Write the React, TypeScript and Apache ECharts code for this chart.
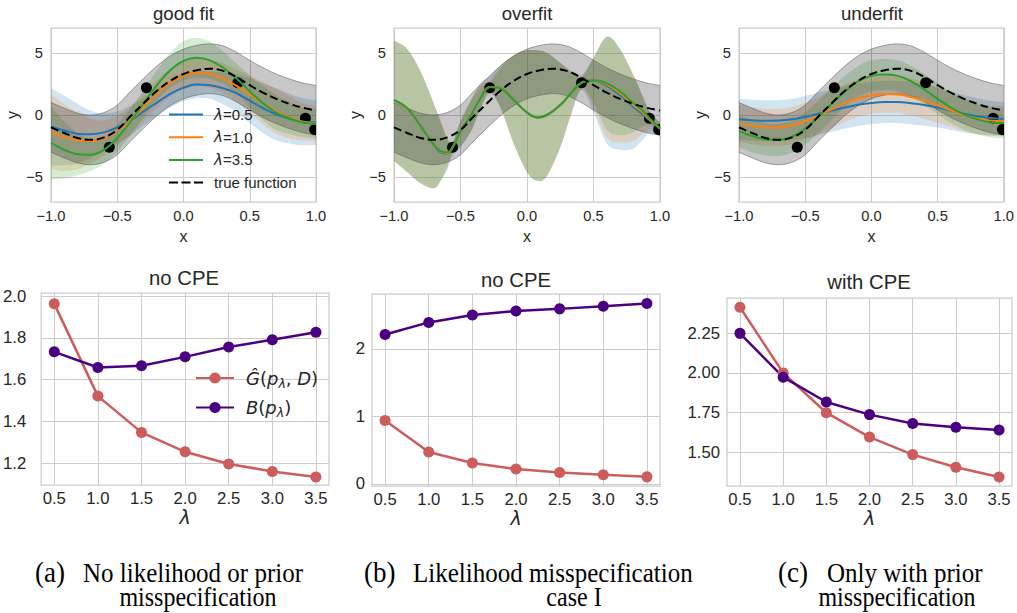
import React, { useEffect, useRef } from 'react';
import * as echarts from 'echarts';

// ---------- top row: GP fits ----------
const xs = [-1.0, -0.9, -0.8, -0.7, -0.6, -0.5, -0.4, -0.3, -0.2, -0.1, 0.0, 0.1, 0.2, 0.3, 0.4, 0.5, 0.6, 0.7, 0.8, 0.9, 1.0];
const trueFn = [-1.0, -1.45, -1.85, -2.0, -1.8, -1.2, -0.1, 0.95, 1.95, 2.75, 3.3, 3.6, 3.72, 3.55, 3.05, 2.4, 1.8, 1.3, 0.9, 0.58, 0.37];
const trueBandHalfWidth = 2;

const dotsX = [-0.56, -0.28, 0.41, 0.92, 0.99];
const dotsY = [-2.6, 2.2, 2.6, -0.27, -1.17];

// good fit
const goodBlue = [-0.95, -1.25, -1.5, -1.55, -1.4, -1.0, -0.45, 0.3, 1.0, 1.7, 2.2, 2.45, 2.4, 2.15, 1.75, 1.15, 0.55, 0.05, -0.3, -0.55, -0.6];
const goodOrange = [-1.35, -1.8, -2.05, -2.1, -1.85, -1.25, -0.45, 0.65, 1.7, 2.6, 3.15, 3.4, 3.3, 2.95, 2.35, 1.65, 0.95, 0.3, -0.2, -0.55, -0.7];
const goodGreen = [-2.25, -2.8, -3.15, -3.2, -2.8, -1.85, -0.55, 0.95, 2.4, 3.6, 4.35, 4.6, 4.4, 3.8, 2.95, 1.9, 0.95, 0.2, -0.25, -0.6, -0.7];
const goodBlueHw = [3.1, 2.8, 2.4, 1.9, 1.5, 1.3, 1.2, 1.1, 1.1, 1.1, 1.1, 1.1, 1.1, 1.3, 1.5, 1.8, 2.0, 2.1, 2.0, 1.9, 1.8];
const goodOrangeHw = [3.0, 2.7, 2.3, 1.8, 1.4, 1.2, 1.1, 1.1, 1.1, 1.1, 1.1, 1.1, 1.1, 1.2, 1.3, 1.5, 1.7, 1.8, 1.7, 1.5, 1.4];
const goodGreenHw = [2.95, 2.3, 1.7, 1.3, 1.1, 1.1, 1.1, 1.1, 1.2, 1.4, 1.6, 1.6, 1.5, 1.3, 1.2, 1.3, 1.4, 1.4, 1.3, 1.2, 1.2];

// overfit (own x grid)
const xsOver = [-1.0, -0.9, -0.8, -0.7, -0.65, -0.6, -0.56, -0.5, -0.42, -0.35, -0.28, -0.2, -0.1, 0.0, 0.08, 0.15, 0.25, 0.33, 0.41, 0.5, 0.6, 0.7, 0.8, 0.87, 0.92, 0.96, 1.0];
const overGreen = [1.2, 0.55, -0.9, -2.4, -2.9, -3.0, -2.6, -1.3, 0.0, 1.35, 2.25, 2.15, 1.2, 0.2, -0.2, 0.0, 0.8, 1.75, 2.6, 2.8, 2.55, 1.9, 0.95, 0.35, -0.25, -0.65, -1.1];
const overOrange = [1.2, 0.55, -0.9, -2.4, -2.95, -3.05, -2.6, -1.3, 0.0, 1.35, 2.25, 2.15, 1.2, 0.2, -0.2, 0.0, 0.8, 1.75, 2.6, 2.8, 2.45, 1.75, 0.8, 0.2, -0.35, -0.7, -1.1];
const overBlue = [1.2, 0.55, -0.9, -2.4, -3.0, -3.1, -2.65, -1.3, 0.0, 1.35, 2.25, 2.15, 1.2, 0.2, -0.2, 0.0, 0.8, 1.75, 2.6, 2.75, 2.35, 1.6, 0.65, 0.05, -0.4, -0.75, -1.1];
const overGreenUp = [6.0, 5.3, 3.5, 0.9, -0.5, -1.9, -2.2, -0.5, 1.2, 2.2, 2.6, 3.75, 4.8, 5.2, 5.2, 5.0, 4.2, 3.5, 3.0, 4.6, 6.3, 5.3, 3.2, 1.5, 0.3, -0.2, -0.6];
const overGreenLo = [-3.7, -4.6, -5.5, -5.9, -5.3, -4.2, -3.0, -2.5, -1.3, 0.5, 1.9, 0.6, -2.3, -4.6, -5.3, -4.9, -2.6, 0.0, 2.2, 1.0, -1.2, -1.6, -1.4, -0.9, -0.8, -1.1, -1.6];
const overOrangeUp = [6.0, 5.3, 3.5, 0.9, -0.5, -1.9, -2.2, -0.5, 1.2, 2.4, 2.8, 3.85, 4.8, 5.2, 5.2, 5.0, 4.2, 3.5, 3.1, 4.6, 6.3, 5.3, 3.2, 1.5, 0.3, -0.2, -0.6];
const overOrangeLo = [-3.7, -4.6, -5.5, -5.9, -5.3, -4.3, -3.1, -2.5, -1.3, 0.5, 1.8, 0.6, -2.3, -4.6, -5.3, -4.9, -2.6, 0.0, 2.1, 0.6, -1.8, -2.2, -2.1, -1.5, -1.1, -1.3, -1.7];
const overBlueUp = [6.0, 5.3, 3.5, 0.9, -0.5, -1.9, -2.2, -0.5, 1.2, 2.6, 3.1, 4.0, 4.8, 5.2, 5.2, 5.0, 4.2, 3.5, 3.2, 4.6, 6.3, 5.3, 3.2, 1.5, 0.3, -0.2, -0.6];
const overBlueLo = [-3.7, -4.6, -5.5, -5.9, -5.3, -4.4, -3.3, -2.6, -1.3, 0.5, 1.7, 0.6, -2.3, -4.6, -5.3, -4.9, -2.6, 0.0, 2.0, 0.2, -2.3, -2.8, -2.7, -2.0, -1.4, -1.5, -1.8];

// underfit
const underBlue = [-0.35, -0.42, -0.47, -0.45, -0.35, -0.15, 0.1, 0.35, 0.6, 0.82, 0.97, 1.05, 1.05, 0.95, 0.8, 0.6, 0.35, 0.1, -0.1, -0.25, -0.3];
const underOrange = [-0.65, -0.85, -1.0, -1.0, -0.85, -0.5, -0.05, 0.45, 0.95, 1.35, 1.58, 1.68, 1.65, 1.45, 1.15, 0.78, 0.4, 0.0, -0.3, -0.45, -0.5];
const underGreen = [-1.3, -1.7, -1.95, -2.0, -1.75, -1.1, -0.15, 0.9, 1.9, 2.7, 3.15, 3.25, 3.15, 2.7, 2.05, 1.3, 0.6, 0.05, -0.35, -0.6, -0.65];
const underBlueHw = [1.65, 1.65, 1.65, 1.65, 1.65, 1.7, 1.7, 1.7, 1.7, 1.7, 1.7, 1.7, 1.7, 1.7, 1.65, 1.6, 1.55, 1.5, 1.45, 1.4, 1.35];
const underOrangeHw = [1.5, 1.5, 1.5, 1.5, 1.5, 1.5, 1.5, 1.5, 1.5, 1.5, 1.5, 1.5, 1.5, 1.5, 1.45, 1.4, 1.35, 1.3, 1.25, 1.2, 1.2];
const underGreenHw = [1.3, 1.3, 1.3, 1.3, 1.3, 1.3, 1.3, 1.3, 1.25, 1.25, 1.25, 1.25, 1.25, 1.25, 1.25, 1.25, 1.25, 1.25, 1.2, 1.2, 1.2];

const topTitles = ['good fit', 'overfit', 'underfit'];
const legendNames = ['λ=0.5', 'λ=1.0', 'λ=3.5', 'true function'];
const topYTicks = [-5, 0, 5];

// ---------- bottom row ----------
const lambdas = [0.5, 1.0, 1.5, 2.0, 2.5, 3.0, 3.5];
const noCpeA_G = [1.963, 1.521, 1.347, 1.254, 1.196, 1.16, 1.133];
const noCpeA_B = [1.733, 1.658, 1.666, 1.709, 1.756, 1.791, 1.827];
const noCpeB_G = [0.94, 0.474, 0.31, 0.22, 0.17, 0.135, 0.105];
const noCpeB_B = [2.21, 2.39, 2.5, 2.56, 2.59, 2.63, 2.67];
const withCpe_G = [2.412, 2.0, 1.75, 1.597, 1.487, 1.408, 1.346];
const withCpe_B = [2.248, 1.973, 1.817, 1.738, 1.682, 1.659, 1.641];
const bottomTitles = ['no CPE', 'no CPE', 'with CPE'];
const lambdaTicks = [0.5, 1.0, 1.5, 2.0, 2.5, 3.0, 3.5];
const yTicksA = [1.2, 1.4, 1.6, 1.8, 2.0];
const yTicksB = [0, 1, 2];
const yTicksC = [1.5, 1.75, 2.0, 2.25];

const captions = [
  { label: '(a)', line1: 'No likelihood or prior', line2: 'misspecification' },
  { label: '(b)', line1: 'Likelihood misspecification', line2: 'case I' },
  { label: '(c)', line1: 'Only with prior', line2: 'misspecification' },
];

const FONT = '"Liberation Sans", Arial, sans-serif';
const MATH = '"DejaVu Sans", sans-serif';
const SERIF = '"Liberation Serif", "Times New Roman", serif';
const TXT = '#262626';
const GRIDC = '#cccccc';
const C_BLUE = '#1f77b4';
const C_ORANGE = '#ff7f0e';
const C_GREEN = '#2ca02c';
const C_RED = '#cd5c5c';
const C_INDIGO = '#4b0082';

const minus = (s: string) => s.replace('-', '\u2212');

// Catmull-Rom smoothing of already-projected pixel points (rendering only)
function smoothPix(pts: number[][]): number[][] {
  const out: number[][] = [];
  const n = pts.length;
  for (let i = 0; i < n - 1; i++) {
    const p0 = pts[Math.max(0, i - 1)], p1 = pts[i], p2 = pts[i + 1], p3 = pts[Math.min(n - 1, i + 2)];
    const steps = 8;
    for (let s = 0; s < steps; s++) {
      const t = s / steps, t2 = t * t, t3 = t2 * t;
      const f = (a: number, b: number, c: number, d: number) =>
        0.5 * (2 * b + (-a + c) * t + (2 * a - 5 * b + 4 * c - d) * t2 + (-a + 3 * b - 3 * c + d) * t3);
      out.push([f(p0[0], p1[0], p2[0], p3[0]), f(p0[1], p1[1], p2[1], p3[1])]);
    }
  }
  out.push(pts[n - 1]);
  return out;
}

function band(gi: number, xArr: number[], lo: number[], hi: number[], fill: string, edge?: string): any {
  return {
    type: 'custom', xAxisIndex: gi, yAxisIndex: gi, clip: true, silent: true,
    encode: { x: 0, y: [1, 2] },
    data: xArr.map((x, i) => [x, lo[i], hi[i]]),
    renderItem: (params: any, api: any) => {
      if (params.dataIndex !== 0) return null;
      const up = smoothPix(xArr.map((x, i) => api.coord([x, hi[i]])));
      const dn = smoothPix(xArr.map((x, i) => api.coord([x, lo[i]])));
      const children: any[] = [
        { type: 'polygon', shape: { points: [...up, ...dn.slice().reverse()] }, style: { fill, stroke: 'none' } },
      ];
      if (edge) {
        children.push({ type: 'polyline', shape: { points: up }, style: { stroke: edge, lineWidth: 1, fill: 'none' } });
        children.push({ type: 'polyline', shape: { points: dn }, style: { stroke: edge, lineWidth: 1, fill: 'none' } });
      }
      return { type: 'group', children };
    },
  };
}

function meanLine(name: string, gi: number, xArr: number[], ys: number[], color: string, dashed = false): any {
  return {
    type: 'line', name, xAxisIndex: gi, yAxisIndex: gi, smooth: 0.4, symbol: 'none', silent: true,
    data: xArr.map((x, i) => [x, ys[i]]),
    lineStyle: { color, width: 2, type: dashed ? [8, 4] : 'solid' }, itemStyle: { color },
  };
}

const BAND_FILLS = ['rgba(31,119,180,0.2)', 'rgba(255,127,14,0.2)', 'rgba(44,160,44,0.2)'];

function topPanel(gi: number, blue: number[], orange: number[], green: number[], xArr: number[],
  bands: [number[], number[]][]): any[] {
  const s: any[] = [];
  bands.forEach((b, k) => s.push(band(gi, xArr, b[0], b[1], BAND_FILLS[k])));
  s.push(band(gi, xs, trueFn.map(v => v - trueBandHalfWidth), trueFn.map(v => v + trueBandHalfWidth), 'rgba(0,0,0,0.22)', 'rgba(90,90,90,0.55)'));
  s.push(meanLine(legendNames[0], gi, xArr, blue, C_BLUE));
  s.push(meanLine(legendNames[1], gi, xArr, orange, C_ORANGE));
  s.push(meanLine(legendNames[2], gi, xArr, green, C_GREEN));
  s.push(meanLine(legendNames[3], gi, xs, trueFn, '#000', true));
  s.push({
    type: 'custom', xAxisIndex: gi, yAxisIndex: gi, clip: true, silent: true,
    encode: { x: 0, y: 1 },
    data: dotsX.map((x, i) => [x, dotsY[i]]),
    renderItem: (_p: any, api: any) => {
      const p = api.coord([api.value(0), api.value(1)]);
      return { type: 'circle', shape: { cx: p[0], cy: p[1], r: 5.5 }, style: { fill: '#000' } };
    },
  });
  return s;
}

const pm = (m: number[], hw: number[]): [number[], number[]] => [m.map((v, i) => v - hw[i]), m.map((v, i) => v + hw[i])];

function bottomPanel(gi: number, g: number[], b: number[]): any[] {
  const mk = (name: string, ys: number[], color: string) => ({
    type: 'line', name, xAxisIndex: gi, yAxisIndex: gi, symbol: 'circle', symbolSize: 11, silent: true,
    data: lambdas.map((x, i) => [x, ys[i]]),
    lineStyle: { color, width: 2.5 }, itemStyle: { color },
  });
  return [mk('G', g, C_RED), mk('B', b, C_INDIGO)];
}

function buildOption(): any {
  const grids = [
    { left: 51, top: 28, width: 265, height: 174 },
    { left: 394, top: 28, width: 266, height: 174 },
    { left: 739, top: 28, width: 266, height: 174 },
    { left: 39, top: 293, width: 290, height: 192 },
    { left: 372, top: 294, width: 288, height: 192 },
    { left: 727, top: 298, width: 285, height: 188 },
  ].map(g => ({ ...g, show: true, borderColor: GRIDC, borderWidth: 1.25, backgroundColor: 'transparent' }));

  const split = { show: true, lineStyle: { color: GRIDC, width: 1 } };
  const xAxis: any[] = [];
  const yAxis: any[] = [];
  for (let gi = 0; gi < 3; gi++) {
    xAxis.push({
      type: 'value', gridIndex: gi, min: -1, max: 1, interval: 0.5,
      axisLine: { show: false }, axisTick: { show: false }, splitLine: split,
      axisLabel: { margin: 6, fontSize: 14.7, color: TXT, fontFamily: FONT, formatter: (v: number) => minus(v.toFixed(1)) },
      name: 'x', nameLocation: 'middle', nameGap: 26, nameTextStyle: { fontSize: 16, color: TXT, fontFamily: FONT },
    });
    yAxis.push({
      type: 'value', gridIndex: gi, min: -7, max: 7,
      axisLine: { show: false }, axisTick: { show: false, customValues: topYTicks }, splitLine: split,
      axisLabel: { margin: 8, fontSize: 14.7, color: TXT, fontFamily: FONT, customValues: topYTicks, formatter: (v: number) => minus(String(v)) },
      name: 'y', nameLocation: 'middle', nameGap: 31, nameTextStyle: { fontSize: 16, color: TXT, fontFamily: FONT },
    });
  }
  const yCfg = [
    { min: 1.095, max: 2.015, ticks: yTicksA, dec: 1, margin: 15 },
    { min: -0.03, max: 2.81, ticks: yTicksB, dec: 0, margin: 7 },
    { min: 1.29, max: 2.47, ticks: yTicksC, dec: 2, margin: 7 },
  ];
  for (let k = 0; k < 3; k++) {
    const gi = k + 3;
    xAxis.push({
      type: 'value', gridIndex: gi, min: 0.35, max: 3.65,
      axisLine: { show: false }, axisTick: { show: false, customValues: lambdaTicks }, splitLine: split,
      axisLabel: { margin: 5, fontSize: 16.7, color: TXT, fontFamily: FONT, customValues: lambdaTicks, formatter: (v: number) => v.toFixed(1) },
      name: 'λ', nameLocation: 'middle', nameGap: 21, nameTextStyle: { fontSize: 19, fontStyle: 'italic', color: TXT, fontFamily: MATH },
    });
    const c = yCfg[k];
    yAxis.push({
      type: 'value', gridIndex: gi, min: c.min, max: c.max,
      axisLine: { show: false }, axisTick: { show: false, customValues: c.ticks }, splitLine: split,
      axisLabel: { margin: c.margin, fontSize: 16.7, color: TXT, fontFamily: FONT, customValues: c.ticks, formatter: (v: number) => v.toFixed(c.dec) },
    });
  }

  const series: any[] = [
    ...topPanel(0, goodBlue, goodOrange, goodGreen, xs, [pm(goodBlue, goodBlueHw), pm(goodOrange, goodOrangeHw), pm(goodGreen, goodGreenHw)]),
    ...topPanel(1, overBlue, overOrange, overGreen, xsOver, [[overBlueLo, overBlueUp], [overOrangeLo, overOrangeUp], [overGreenLo, overGreenUp]]),
    ...topPanel(2, underBlue, underOrange, underGreen, xs, [pm(underBlue, underBlueHw), pm(underOrange, underOrangeHw), pm(underGreen, underGreenHw)]),
    ...bottomPanel(3, noCpeA_G, noCpeA_B),
    ...bottomPanel(4, noCpeB_G, noCpeB_B),
    ...bottomPanel(5, withCpe_G, withCpe_B),
  ];

  const titleEl = (text: string, x: number, y: number, size: number) => ({
    type: 'text', x, y, silent: true,
    style: { text, fontSize: size, fontFamily: FONT, fill: TXT, textAlign: 'center', textVerticalAlign: 'middle', align: 'center', verticalAlign: 'middle' },
  });
  const serifEl = (text: string, x: number, y: number, size: number, align: string) => ({
    type: 'text', x, y, silent: true, scaleY: 1.1,
    style: { text, fontSize: size, fontFamily: SERIF, fill: '#000', textAlign: align, textVerticalAlign: 'middle', align, verticalAlign: 'middle' },
  });
  const capPos = [
    { lx: 35, tx: 83, cx: 198 },
    { lx: 364, tx: 413, cx: 574 },
    { lx: 778, tx: 827, cx: 897 },
  ];
  const graphics: any[] = [
    titleEl(topTitles[0], 183.5, 13, 18.6),
    titleEl(topTitles[1], 527, 13, 18.6),
    titleEl(topTitles[2], 872, 13, 18.6),
    titleEl(bottomTitles[0], 184, 278, 20.3),
    titleEl(bottomTitles[1], 516, 280, 20.3),
    titleEl(bottomTitles[2], 869, 282, 20.3),
  ];
  captions.forEach((c, i) => {
    const p = capPos[i];
    graphics.push(serifEl(c.label, p.lx, 572, 27, 'left'));
    graphics.push(serifEl(c.line1, p.tx, 573, 25, 'left'));
    graphics.push(serifEl(c.line2, p.cx, 597, 24, 'center'));
  });

  const dash = 'path://M0 0h9v2H0z M12.5 0h9v2h-9z M25 0h9v2h-9z';
  return {
    animation: false,
    backgroundColor: '#ffffff',
    grid: grids,
    xAxis, yAxis, series,
    legend: [
      {
        data: [
          { name: legendNames[0], icon: 'rect' },
          { name: legendNames[1], icon: 'rect' },
          { name: legendNames[2], icon: 'rect' },
          { name: legendNames[3], icon: dash },
        ],
        left: 169, top: 107, orient: 'vertical', itemWidth: 34, itemHeight: 2, itemGap: 7.7,
        padding: 0, selectedMode: false,
        textStyle: { fontSize: 15, color: TXT, fontFamily: FONT, lineHeight: 14, padding: [0, 0, 0, 6],
          rich: { i: { fontStyle: 'italic', fontFamily: MATH, fontSize: 15, color: TXT } } },
        formatter: (n: string) => (n.startsWith('λ') ? '{i|λ}' + n.slice(1) : n),
      },
      {
        data: ['G', 'B'], left: 195, top: 367, orient: 'vertical', itemWidth: 38, itemHeight: 14, itemGap: 7,
        padding: 0, selectedMode: false,
        textStyle: { fontSize: 18, color: TXT, fontFamily: MATH, lineHeight: 22, padding: [0, 0, 0, 7],
          rich: {
            m: { fontStyle: 'italic', fontFamily: MATH, fontSize: 18, color: TXT },
            n: { fontFamily: MATH, fontSize: 18, color: TXT },
            s: { fontStyle: 'italic', fontFamily: MATH, fontSize: 12.5, color: TXT, padding: [10, 0, 0, 0] },
          } },
        formatter: (n: string) => (n === 'G'
          ? '{m|\u011C}{n|(}{m|p}{s|λ}{n|, }{m|D}{n|)}'
          : '{m|B}{n|(}{m|p}{s|λ}{n|)}'),
      },
    ],
    graphic: graphics,
  };
}

export default function App() {
  const ref = useRef<HTMLDivElement>(null);
  useEffect(() => {
    const chart = echarts.init(ref.current!, null, { renderer: 'svg' });
    chart.setOption(buildOption());
    return () => chart.dispose();
  }, []);
  return <div ref={ref} style={{ position: 'absolute', left: 0, top: 0, width: 1017, height: 613, background: '#fff' }} />;
}
